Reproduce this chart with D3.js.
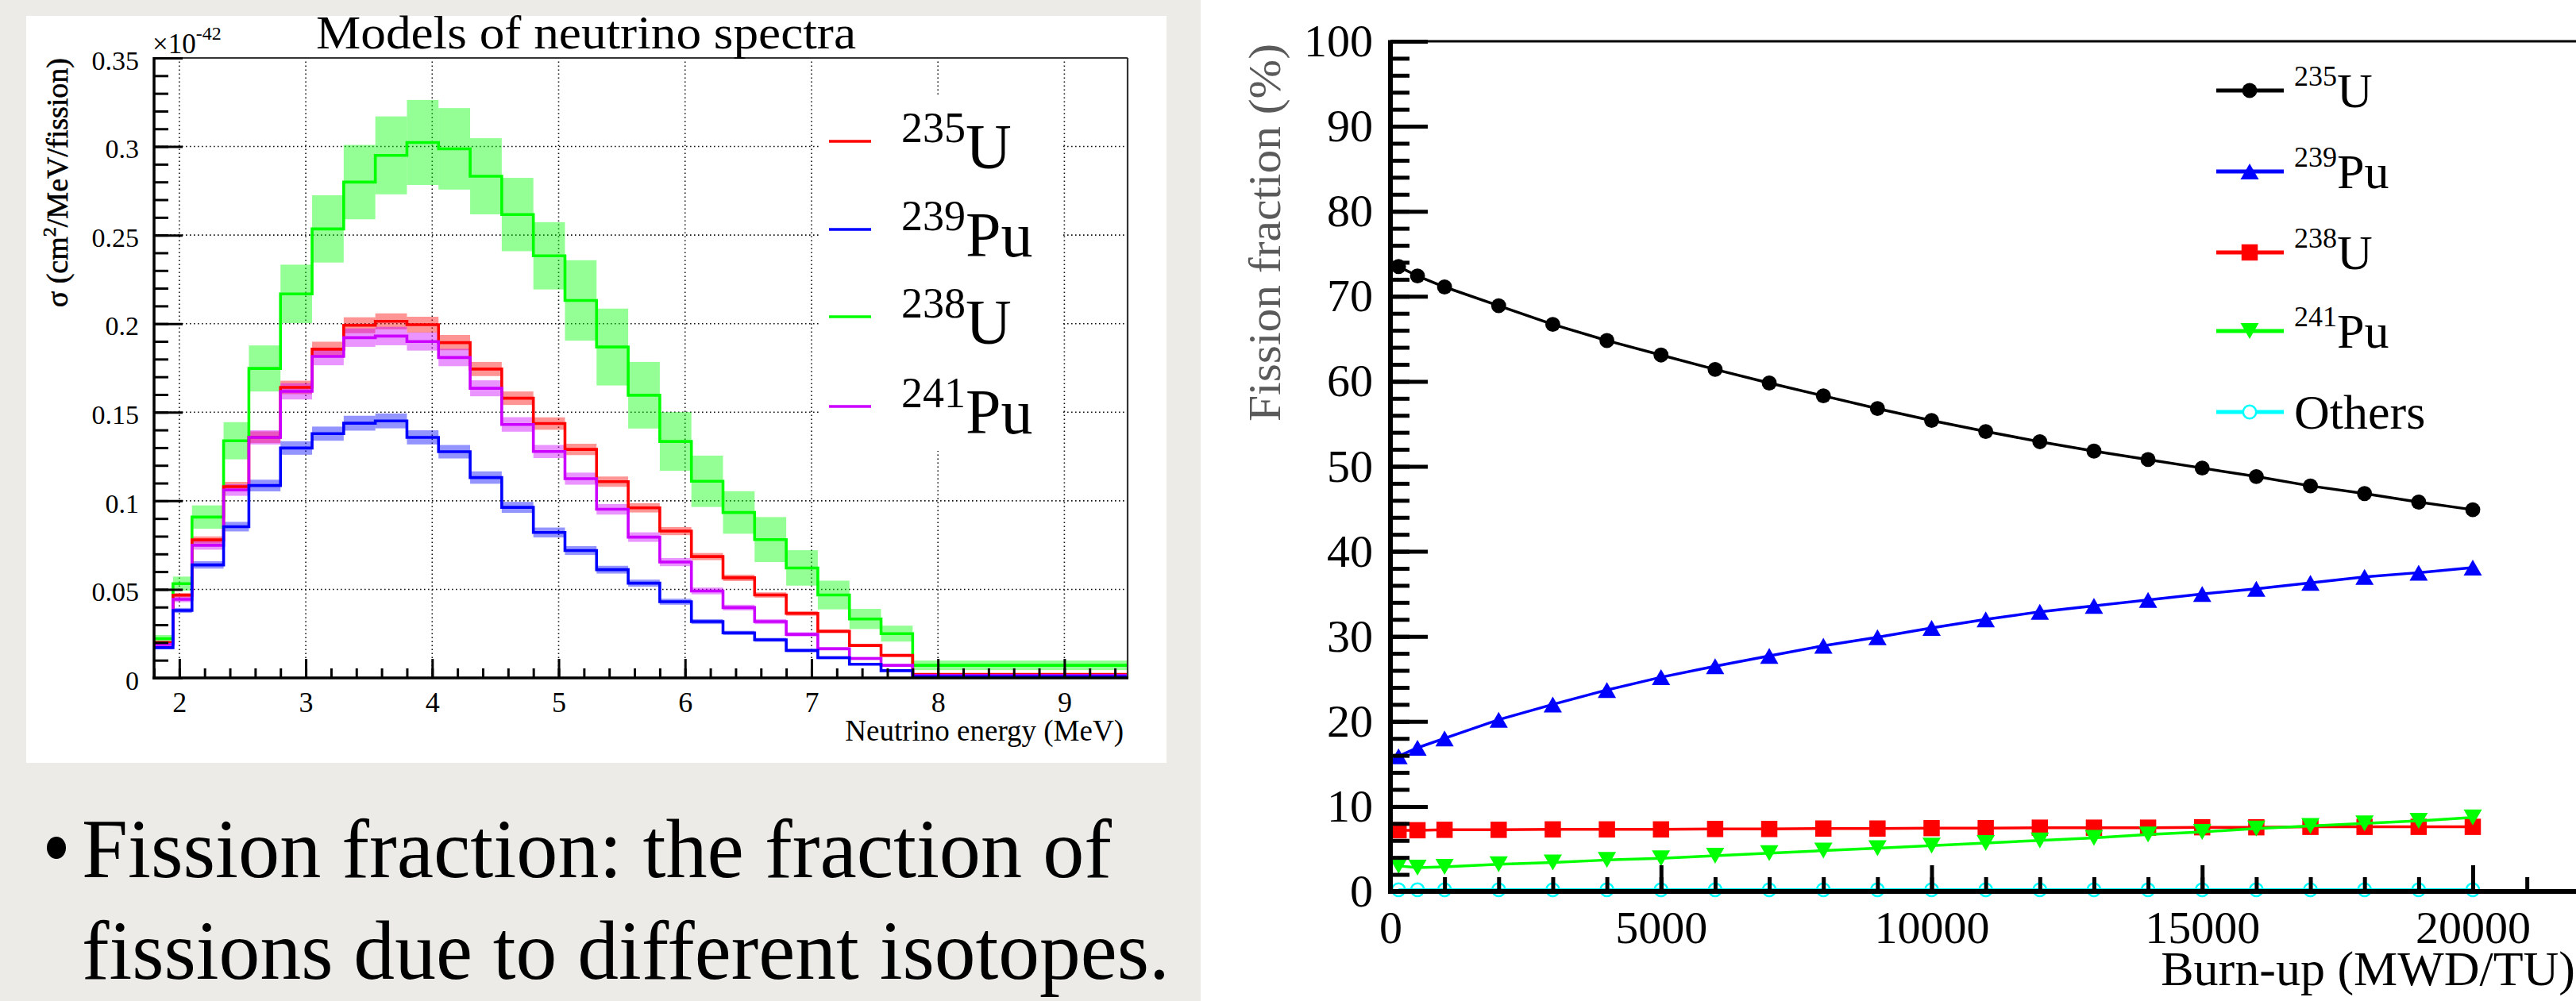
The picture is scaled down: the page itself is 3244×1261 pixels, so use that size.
<!DOCTYPE html>
<html><head><meta charset="utf-8">
<script src="https://cdn.jsdelivr.net/npm/d3@7"></script>
<style>body{margin:0;background:#ecebe7;} svg{display:block}</style>
</head><body><svg id="c" width="3244" height="1261"></svg>
<script>
// ---------- Left chart: neutrino spectra (x 1e-42 cm^2/MeV/fission) ----------
const binEdges = [1.8, 1.95, 2.1, 2.35, 2.55, 2.8, 3.05, 3.3, 3.55, 3.8, 4.05, 4.3, 4.55, 4.8, 5.05, 5.3, 5.55, 5.8, 6.05, 6.3, 6.55, 6.8, 7.05, 7.3, 7.55, 7.8, 9.5];
const specNames = ["235", "239", "238", "241"];
const specElem = ["U", "Pu", "U", "Pu"];
const spec235U = [0.0200, 0.0467, 0.0779, 0.1080, 0.1359, 0.1640, 0.1856, 0.1991, 0.2013, 0.1994, 0.1893, 0.1744, 0.1579, 0.1436, 0.1290, 0.1108, 0.0960, 0.0829, 0.0685, 0.0565, 0.0468, 0.0364, 0.0263, 0.0183, 0.0127, 0.0020];
const err235U  = [0.0008, 0.0013, 0.0020, 0.0027, 0.0033, 0.0038, 0.0042, 0.0045, 0.0045, 0.0045, 0.0043, 0.0040, 0.0038, 0.0035, 0.0032, 0.0029, 0.0026, 0.0023, 0.0020, 0.0018, 0.0015, 0.0013, 0.0011, 0.0009, 0.0008, 0.0004];
const spec239Pu = [0.0171, 0.0381, 0.0638, 0.0854, 0.1086, 0.1298, 0.1379, 0.1438, 0.1451, 0.1358, 0.1277, 0.1131, 0.0963, 0.0821, 0.0719, 0.0611, 0.0535, 0.0430, 0.0318, 0.0254, 0.0215, 0.0155, 0.0114, 0.0077, 0.0041, 0.0008];
const err239Pu  = [0.0008, 0.0014, 0.0021, 0.0027, 0.0033, 0.0038, 0.0040, 0.0042, 0.0042, 0.0040, 0.0038, 0.0035, 0.0031, 0.0028, 0.0025, 0.0022, 0.0020, 0.0017, 0.0014, 0.0012, 0.0011, 0.0009, 0.0008, 0.0006, 0.0005, 0.0003];
const spec238U = [0.0222, 0.0532, 0.0908, 0.1339, 0.1747, 0.2168, 0.2535, 0.2799, 0.2950, 0.3023, 0.2987, 0.2832, 0.2616, 0.2383, 0.2131, 0.1868, 0.1596, 0.1335, 0.1110, 0.0934, 0.0781, 0.0621, 0.0468, 0.0333, 0.0250, 0.0071];
const err238U  = [0.0020, 0.0040, 0.0066, 0.0105, 0.0130, 0.0165, 0.0190, 0.0210, 0.0220, 0.0240, 0.0230, 0.0215, 0.0207, 0.0190, 0.0227, 0.0217, 0.0188, 0.0166, 0.0145, 0.0120, 0.0127, 0.0100, 0.0081, 0.0057, 0.0045, 0.0027];
const spec241Pu = [0.0189, 0.0444, 0.0749, 0.1061, 0.1358, 0.1618, 0.1815, 0.1921, 0.1930, 0.1899, 0.1809, 0.1635, 0.1431, 0.1278, 0.1125, 0.0952, 0.0795, 0.0654, 0.0491, 0.0397, 0.0318, 0.0246, 0.0165, 0.0110, 0.0071, 0.0014];
const err241Pu  = [0.0009, 0.0016, 0.0025, 0.0033, 0.0040, 0.0046, 0.0050, 0.0052, 0.0052, 0.0051, 0.0049, 0.0045, 0.0041, 0.0037, 0.0034, 0.0030, 0.0027, 0.0023, 0.0019, 0.0016, 0.0014, 0.0012, 0.0010, 0.0008, 0.0006, 0.0004];
const specTicksY = [0, 0.05, 0.1, 0.15, 0.2, 0.25, 0.3, 0.35];
const specTickLabelsY = ["0", "0.05", "0.1", "0.15", "0.2", "0.25", "0.3", "0.35"];
const specTicksX = [2, 3, 4, 5, 6, 7, 8, 9];

// ---------- Right chart: fission fractions (%) vs burn-up ----------
const burnup = [150, 500, 1000, 2000, 3000, 4000, 5000, 6000, 7000, 8000, 9000, 10000, 11000, 12000, 13000, 14000, 15000, 16000, 17000, 18000, 19000, 20000];
const frac235U = [73.5, 72.4, 71.1, 68.9, 66.7, 64.8, 63.1, 61.4, 59.8, 58.3, 56.8, 55.4, 54.1, 52.9, 51.8, 50.8, 49.8, 48.8, 47.7, 46.8, 45.8, 44.9];
const frac239Pu = [15.9, 16.9, 18.0, 20.2, 22.0, 23.7, 25.2, 26.5, 27.7, 28.9, 29.9, 31.0, 32.0, 32.9, 33.6, 34.3, 35.0, 35.6, 36.3, 37.0, 37.5, 38.1];
const frac238U = [7.2, 7.2, 7.25, 7.25, 7.3, 7.3, 7.3, 7.35, 7.35, 7.4, 7.4, 7.45, 7.45, 7.5, 7.5, 7.5, 7.55, 7.55, 7.6, 7.6, 7.6, 7.6];
const frac241Pu = [3.0, 2.8, 2.9, 3.2, 3.4, 3.7, 3.9, 4.2, 4.5, 4.8, 5.1, 5.4, 5.7, 6.0, 6.3, 6.7, 7.0, 7.4, 7.7, 8.0, 8.3, 8.7];
const fracOthers = [0.2, 0.2, 0.2, 0.2, 0.2, 0.2, 0.2, 0.2, 0.2, 0.2, 0.2, 0.2, 0.2, 0.2, 0.2, 0.2, 0.2, 0.2, 0.2, 0.2, 0.2, 0.2];
const fracSup = ["235", "239", "238", "241", ""];
const fracMain = ["U", "Pu", "U", "Pu", "Others"];
const fracTicksY = [0, 10, 20, 30, 40, 50, 60, 70, 80, 90, 100];
const fracTicksX = [0, 5000, 10000, 15000, 20000];

const FONT = "Liberation Serif";
const svg = d3.select("#c");

// background panels
svg.append("rect").attr("x",0).attr("y",0).attr("width",3244).attr("height",1261).attr("fill","#ecebe7");
svg.append("rect").attr("x",33).attr("y",20).attr("width",1436).attr("height",941).attr("fill","#fff");
svg.append("rect").attr("x",1512).attr("y",0).attr("width",1732).attr("height",1261).attr("fill","#fff");

// ================= LEFT CHART =================
const xL = d3.scaleLinear().domain([1.8, 9.5]).range([194, 1420]);
const yL = d3.scaleLinear().domain([0, 0.35]).range([854, 73]);
const gL = svg.append("g");

// grid
gL.append("g").selectAll("line").data(specTicksX).join("line")
  .attr("x1", d=>xL(d)).attr("x2", d=>xL(d)).attr("y1", yL(0)).attr("y2", yL(0.35))
  .attr("stroke","#111").attr("stroke-width",1.6).attr("stroke-dasharray","1.6,3.4");
gL.append("g").selectAll("line").data(specTicksY.filter(d=>d>0 && d<0.35)).join("line")
  .attr("y1", d=>yL(d)).attr("y2", d=>yL(d)).attr("x1", xL(1.8)).attr("x2", xL(9.5))
  .attr("stroke","#111").attr("stroke-width",1.6).attr("stroke-dasharray","1.6,3.4");

// legend box (covers grid)
gL.append("rect").attr("x",1032).attr("y",122).attr("width",305).attr("height",446).attr("fill","#fff");

const specSeries = [
  {v: spec238U, e: err238U, c: "#00ff00"},
  {v: spec235U, e: err235U, c: "#ff0000"},
  {v: spec241Pu, e: err241Pu, c: "#cc00ff"},
  {v: spec239Pu, e: err239Pu, c: "#0000ff"}
];
// bands
specSeries.forEach(s => {
  gL.append("g").selectAll("rect").data(s.v.map((v,i)=>({v, e:s.e[i], x0:binEdges[i], x1:binEdges[i+1]}))).join("rect")
    .attr("x", d=>xL(d.x0)).attr("width", d=>xL(d.x1)-xL(d.x0))
    .attr("y", d=>yL(d.v+d.e)).attr("height", d=>yL(d.v-d.e)-yL(d.v+d.e))
    .attr("fill", s.c).attr("fill-opacity", 0.42);
});
// step lines
const stepLine = d3.line().x(d=>xL(d[0])).y(d=>yL(d[1])).curve(d3.curveStepAfter);
specSeries.forEach(s => {
  const pts = s.v.map((v,i)=>[binEdges[i], v]);
  pts.push([binEdges[binEdges.length-1], s.v[s.v.length-1]]);
  gL.append("path").attr("d", stepLine(pts)).attr("fill","none").attr("stroke", s.c).attr("stroke-width",3.6);
});

// frame
gL.append("line").attr("x1",xL(1.8)).attr("x2",xL(9.5)).attr("y1",yL(0.35)).attr("y2",yL(0.35)).attr("stroke","#333").attr("stroke-width",2.2);
gL.append("line").attr("x1",xL(9.5)).attr("x2",xL(9.5)).attr("y1",yL(0.35)).attr("y2",yL(0)).attr("stroke","#333").attr("stroke-width",2.2);

// axes
function styleAxis(g, sw, fs) {
  g.select(".domain").remove();
  g.selectAll(".tick line").attr("stroke","#000").attr("stroke-width",sw);
  g.attr("font-family", FONT).attr("font-size", fs);
  g.selectAll(".tick text").attr("fill","#000");
}
const gYL = gL.append("g").attr("transform",`translate(${xL(1.8)},0)`)
  .call(d3.axisLeft(yL).tickValues(specTicksY).tickSizeInner(-36).tickSizeOuter(0).tickPadding(19)
        .tickFormat((d,i)=>specTickLabelsY[i]));
styleAxis(gYL, 3, 34);
gYL.selectAll(".tick text").attr("dy","0.42em");
const gYLm = gL.append("g").attr("transform",`translate(${xL(1.8)},0)`)
  .call(d3.axisLeft(yL).ticks(35).tickSizeInner(-18).tickSizeOuter(0).tickFormat(""));
styleAxis(gYLm, 3, 10);

const gXL = gL.append("g").attr("transform",`translate(0,${yL(0)})`)
  .call(d3.axisBottom(xL).tickValues(specTicksX).tickSizeInner(-24).tickSizeOuter(0).tickPadding(17).tickFormat(d3.format("d")));
styleAxis(gXL, 3, 36);
const gXLm = gL.append("g").attr("transform",`translate(0,${yL(0)})`)
  .call(d3.axisBottom(xL).tickValues(xL.ticks(40).filter(d=>d>=1.8 && d<=9.45)).tickSizeInner(-12).tickSizeOuter(0).tickFormat(""));
styleAxis(gXLm, 3, 10);

gL.append("line").attr("x1",xL(1.8)).attr("x2",xL(1.8)).attr("y1",yL(0.35)-1).attr("y2",yL(0)+2).attr("stroke","#000").attr("stroke-width",3.5);
gL.append("line").attr("x1",xL(1.8)-2).attr("x2",xL(9.5)+1).attr("y1",yL(0)).attr("y2",yL(0)).attr("stroke","#000").attr("stroke-width",3.5);

// texts
gL.append("text").attr("x",398).attr("y",61).attr("font-family",FONT).attr("font-size",60)
  .attr("textLength",680).attr("lengthAdjust","spacingAndGlyphs").text("Models of neutrino spectra");
const exp = gL.append("text").attr("x",192).attr("y",67).attr("font-family",FONT).attr("font-size",35);
exp.append("tspan").text("×10");
exp.append("tspan").attr("font-size",24).attr("dy",-17).text("-42");
const yt = gL.append("text").attr("transform",`translate(85,73) rotate(-90)`).attr("text-anchor","end")
  .attr("font-family",FONT).attr("font-size",38).attr("stroke","#000").attr("stroke-width",0.6);
yt.append("tspan").text("σ (cm");
yt.append("tspan").attr("font-size",24).attr("dy",-15).text("2");
yt.append("tspan").attr("dy",15).text("/MeV/fission)");
gL.append("text").attr("x",1415).attr("y",933).attr("text-anchor","end").attr("font-family",FONT).attr("font-size",37)
  .text("Neutrino energy (MeV)");

// legend
const legColors = ["#ff0000", "#0000ff", "#00ff00", "#cc00ff"];
const legRowsL = [178, 289, 399, 512];
legRowsL.forEach((ry,i) => {
  gL.append("line").attr("x1",1044).attr("x2",1097).attr("y1",ry).attr("y2",ry).attr("stroke",legColors[i]).attr("stroke-width",3.5);
  const t = gL.append("text").attr("x",1135).attr("y",ry+34).attr("font-family",FONT);
  t.append("tspan").attr("font-size",54).attr("dy",-33).text(specNames[i]);
  t.append("tspan").attr("font-size",80).attr("dy",33).text(specElem[i]);
});

// bullet text
svg.append("ellipse").attr("cx",71).attr("cy",1068).attr("rx",12).attr("ry",14).attr("fill","#000");
svg.append("text").attr("x",103).attr("y",1105).attr("font-family",FONT).attr("font-size",106)
  .attr("textLength",1297).attr("lengthAdjust","spacingAndGlyphs").text("Fission fraction: the fraction of");
svg.append("text").attr("x",103).attr("y",1233).attr("font-family",FONT).attr("font-size",106)
  .attr("textLength",1370).attr("lengthAdjust","spacingAndGlyphs").text("fissions due to different isotopes.");

// ================= RIGHT CHART =================
const xR = d3.scaleLinear().domain([0, 20000]).range([1751, 3114]);
const yR = d3.scaleLinear().domain([0, 100]).range([1123, 52]);
const gR = svg.append("g");

const triUp = {draw(ctx, size){ const w=11.5, h=10; ctx.moveTo(0,-h); ctx.lineTo(w,h); ctx.lineTo(-w,h); ctx.closePath(); }};
const triDown = {draw(ctx, size){ const w=11.5, h=10; ctx.moveTo(0,h); ctx.lineTo(w,-h); ctx.lineTo(-w,-h); ctx.closePath(); }};
const fracSeries = [
  {v: frac235U, c:"#000000", sym: d3.symbol(d3.symbolCircle, 280), fill:true},
  {v: frac239Pu, c:"#0000ff", sym: d3.symbol(triUp), fill:true},
  {v: frac238U, c:"#ff0000", sym: d3.symbol(d3.symbolSquare, 420), fill:true},
  {v: frac241Pu, c:"#00ff00", sym: d3.symbol(triDown), fill:true},
  {v: fracOthers, c:"#00ffff", sym: d3.symbol(d3.symbolCircle, 210), fill:false}
];
const fracLine = d3.line().x((d,i)=>xR(burnup[i])).y(d=>yR(d));
fracSeries.forEach(s => {
  gR.append("path").attr("d", fracLine(s.v)).attr("fill","none").attr("stroke",s.c).attr("stroke-width",3.5);
  gR.append("g").selectAll("path").data(s.v).join("path")
    .attr("transform",(d,i)=>`translate(${xR(burnup[i])},${yR(d)})`)
    .attr("d", s.sym())
    .attr("fill", s.fill ? s.c : "none").attr("stroke", s.fill ? "none" : s.c).attr("stroke-width", 2.5);
});

// axes right
const gYR = gR.append("g").attr("transform",`translate(${xR(0)},0)`)
  .call(d3.axisLeft(yR).tickValues(fracTicksY).tickSizeInner(-47).tickSizeOuter(0).tickPadding(22).tickFormat(d3.format("d")));
styleAxis(gYR, 5, 58);
const gYRm = gR.append("g").attr("transform",`translate(${xR(0)},0)`)
  .call(d3.axisLeft(yR).ticks(50).tickSizeInner(-24).tickSizeOuter(0).tickFormat(""));
styleAxis(gYRm, 5, 10);
const gXR = gR.append("g").attr("transform",`translate(0,${yR(0)})`)
  .call(d3.axisBottom(xR).tickValues(fracTicksX).tickSizeInner(-33).tickSizeOuter(0).tickPadding(24).tickFormat(d3.format("d")));
styleAxis(gXR, 5, 58);
const gXRm = gR.append("g").attr("transform",`translate(0,${yR(0)})`)
  .call(d3.axisBottom(xR).tickValues(d3.range(0, 21001, 1000)).tickSizeInner(-18).tickSizeOuter(0).tickFormat(""));
styleAxis(gXRm, 5, 10);

gR.append("line").attr("x1",xR(0)).attr("x2",3244).attr("y1",yR(100)).attr("y2",yR(100)).attr("stroke","#000").attr("stroke-width",3);
gR.append("line").attr("x1",xR(0)).attr("x2",xR(0)).attr("y1",yR(100)-1.5).attr("y2",yR(0)+3).attr("stroke","#000").attr("stroke-width",6);
gR.append("line").attr("x1",xR(0)-3).attr("x2",3244).attr("y1",yR(0)).attr("y2",yR(0)).attr("stroke","#000").attr("stroke-width",6);

gR.append("text").attr("transform","translate(1612,55) rotate(-90)").attr("text-anchor","end")
  .attr("font-family",FONT).attr("font-size",58).attr("fill","#5a5a5a")
  .attr("textLength",476).attr("lengthAdjust","spacingAndGlyphs").text("Fission fraction (%)");
gR.append("text").attr("x",3243).attr("y",1241).attr("text-anchor","end").attr("font-family",FONT).attr("font-size",62)
  .text("Burn-up (MWD/TU)");

// legend right
const legRowsR = [114, 216, 318, 417, 519];
legRowsR.forEach((ry,i) => {
  const s = fracSeries[i];
  gR.append("line").attr("x1",2791).attr("x2",2876).attr("y1",ry).attr("y2",ry).attr("stroke",s.c).attr("stroke-width",5);
  gR.append("path").attr("transform",`translate(2833,${ry})`).attr("d", s.sym())
    .attr("fill", s.fill ? s.c : "#fff").attr("stroke", s.fill ? "none" : s.c).attr("stroke-width",2.5);
  const t = gR.append("text").attr("x",2889).attr("y",ry+21).attr("font-family",FONT);
  if (fracSup[i]) t.append("tspan").attr("font-size",36).attr("dy",-27).text(fracSup[i]);
  t.append("tspan").attr("font-size",62).attr("dy", fracSup[i] ? 27 : 0).text(fracMain[i]);
});
</script></body></html>
